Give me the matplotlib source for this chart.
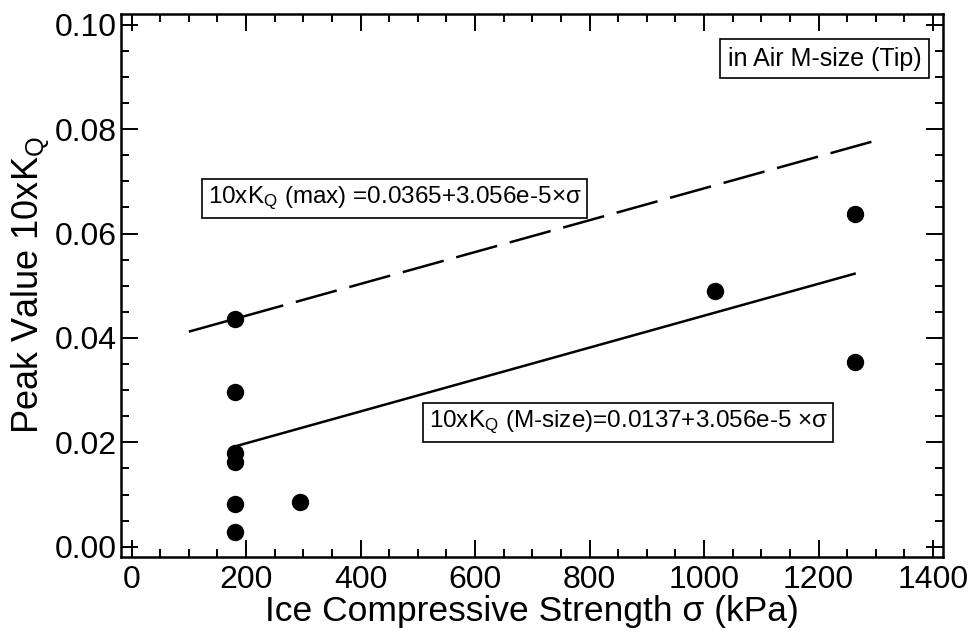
import numpy as np
import matplotlib.pyplot as plt
from matplotlib.ticker import MultipleLocator, FormatStrFormatter

plt.rcParams['font.family'] = ['Liberation Sans', 'DejaVu Sans']
plt.rcParams['mathtext.fontset'] = 'custom'
plt.rcParams['mathtext.rm'] = 'Liberation Sans'
plt.rcParams['mathtext.it'] = 'Liberation Sans:italic'

# ── data ──────────────────────────────────────────────────────────────────────
sigma_kpa = [180, 180, 180, 180, 180, 180, 295, 1020, 1263, 1263]
peak_10kq = [0.0436, 0.0296, 0.0180, 0.0163, 0.0081, 0.0029, 0.0085, 0.0490, 0.0638, 0.0353]

# fitted lines (end points)
fit_x = [180, 1263]
fit_y = [0.0192, 0.0523]
max_x = [100, 1300]
max_y = [0.0412, 0.0778]

# ── figure ────────────────────────────────────────────────────────────────────
fig = plt.figure(figsize=(9.72, 6.31), dpi=100)
ax = fig.add_axes([0.1242, 0.1178, 0.8457, 0.8596])

ax.plot(max_x, max_y, color="black", lw=1.8, dashes=(17, 5.2))
ax.plot(fit_x, fit_y, color="black", lw=1.8)
ax.plot(sigma_kpa, peak_10kq, "o", color="black", ms=11.5, ls="none")

ax.set_xlim(-19, 1417)
ax.set_ylim(-0.0019, 0.102)

ax.xaxis.set_major_locator(MultipleLocator(200))
ax.xaxis.set_minor_locator(MultipleLocator(50))
ax.yaxis.set_major_locator(MultipleLocator(0.02))
ax.yaxis.set_minor_locator(MultipleLocator(0.005))
ax.yaxis.set_major_formatter(FormatStrFormatter("%.2f"))

ax.tick_params(which="both", direction="in", top=True, right=True, width=1.4,
               labelsize=23)
ax.tick_params(which="major", length=12.5)
ax.tick_params(which="minor", length=6)
ax.tick_params(axis="y", pad=3)
ax.tick_params(axis="x", pad=6)
for sp in ax.spines.values():
    sp.set_linewidth(1.8)

ax.set_xlabel("Ice Compressive Strength σ (kPa)", fontsize=25.5, labelpad=0)
ax.set_ylabel(r"Peak Value 10xK$_{\rm Q}$", fontsize=26, labelpad=2)

box = dict(boxstyle="square,pad=0.22", fc="white", ec="black", lw=1.2)
ax.text(133, 0.0667, r"10xK$_{\rm Q}$ (max) =0.0365+3.056e-5×σ",
        fontsize=17.5, ha="left", va="center", bbox=box)
ax.text(519, 0.0238, r"10xK$_{\rm Q}$ (M-size)=0.0137+3.056e-5 ×σ",
        fontsize=17.5, ha="left", va="center", bbox=box)
ax.text(1380, 0.0935, "in Air M-size (Tip)", fontsize=18, ha="right",
        va="center",
        bbox=dict(boxstyle="square,pad=0.3", fc="white", ec="black", lw=1.2))

fig.savefig("out.png", dpi=100)
